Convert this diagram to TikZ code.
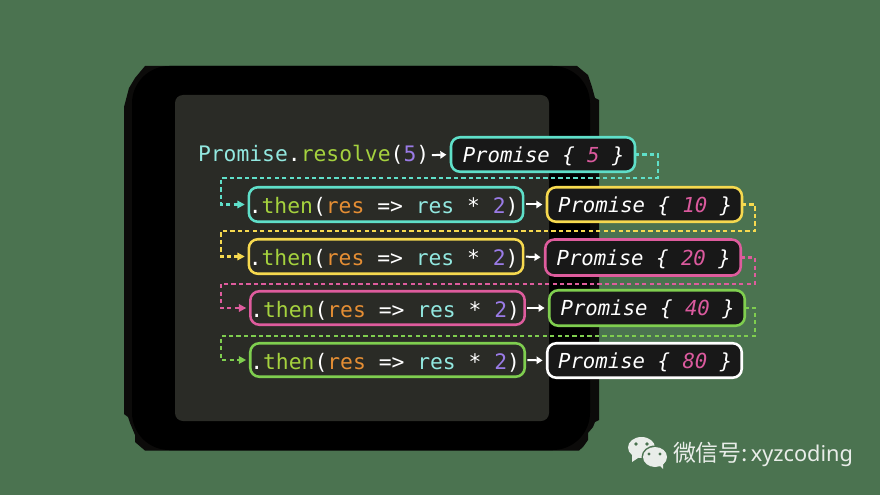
\documentclass[tikz,border=0pt]{standalone}
\usepackage{fontspec}
\setmonofont{DejaVu Sans Mono}
\newfontfamily\cjkfont{Noto Sans CJK SC}
\newfontfamily\latinfont{Noto Sans}
\usetikzlibrary{arrows.meta}
\definecolor{bgc}{HTML}{4B7350}
\definecolor{panelc}{HTML}{2A2B26}
\definecolor{innerc}{HTML}{181818}
\definecolor{shadowc}{HTML}{0C0B0A}
\definecolor{tealc}{HTML}{5FDFC9}
\definecolor{yelc}{HTML}{F6D94F}
\definecolor{pinkc}{HTML}{DE5C9D}
\definecolor{grnc}{HTML}{7FCE4F}
\definecolor{cyant}{HTML}{92E8E0}
\definecolor{lime}{HTML}{A5D23E}
\definecolor{orng}{HTML}{E58E34}
\definecolor{purp}{HTML}{9A7BE6}
\definecolor{pinkt}{HTML}{DB5A9E}
\definecolor{wech}{HTML}{E9EDE9}
\def\ux{0.75pt}
\newcommand{\thencode}{\textcolor{white}{.}\textcolor{lime}{then}\textcolor{white}{(}\textcolor{orng}{res}\textcolor{white}{\ =>\ }\textcolor{cyant}{res}\textcolor{white}{\ *\ }\textcolor{purp}{2}\textcolor{white}{)}\kern 3.5pt}
\newcommand{\pcode}[1]{\textcolor{white}{Promise\ \{\ }\textcolor{pinkt}{#1}\textcolor{white}{\ \}}\kern -1pt}
\tikzset{
  box/.style={draw=#1,line width=1.9pt,rounded corners=6.8pt,inner sep=0pt,outer sep=0pt,font=\fontsize{16pt}{18pt}\ttfamily,text=white},
  thenbox/.style={box=#1,text height=13.8pt,text depth=0pt},
  probox/.style={box=#1,fill=innerc,text height=11.5pt,text depth=0pt,font=\fontsize{15.5pt}{18pt}\ttfamily\itshape},
  link/.style={draw=#1,line width=1.7pt,dash pattern=on 3.2pt off 2.4pt,-{Triangle[length=5.5pt,width=5.5pt,fill=#1]},shorten >=3pt},
  solidarrow/.style={draw=white,line width=1.5pt,-{Triangle[length=4.5pt,width=5.5pt,fill=white]},shorten <=2pt,shorten >=3.5pt},
}
\begin{document}
\begin{tikzpicture}[x=0.75pt,y=-0.75pt]
\useasboundingbox (0,0) rectangle (880,495);
\fill[bgc] (0,0) rectangle (880,495);
% shadow
\fill[shadowc] (145,66) -- (577,66) -- (588,75) -- (592,87) -- (595,98) -- (599,100) -- (599,420) -- (595,422) -- (593,427) -- (588,433) -- (588,440) -- (583,447) -- (579,450.5) -- (145,450.5) -- (142,448) -- (135,442) -- (135,435) -- (130,423) -- (128,417) -- (124,414) -- (124,107) -- (129,88) -- (135,78) -- cycle;
\fill[black,rounded corners=28pt] (132,66) rectangle (590,450);
\fill[panelc,rounded corners=6pt] (175,95) rectangle (549,421);
% code line
\node[anchor=base west,inner sep=0pt,outer sep=0pt,font=\fontsize{16pt}{18pt}\ttfamily] (res) at (198,162) {\textcolor{cyant}{Promise}\textcolor{white}{.}\textcolor{lime}{resolve}\textcolor{white}{(}\textcolor{purp}{5}\textcolor{white}{)}};
% promise boxes
\node[probox=tealc,minimum width=184*\ux,minimum height=34.5*\ux] (p1) at (543,154.5) {\pcode{5}};
\node[probox=yelc,minimum width=195*\ux,minimum height=34.5*\ux] (p2) at (644.5,204.5) {\pcode{10}};
\node[probox=pinkc,minimum width=195.5*\ux,minimum height=36*\ux] (p3) at (643,257.5) {\pcode{20}};
\node[probox=grnc,minimum width=195.5*\ux,minimum height=35.5*\ux] (p4) at (647,308) {\pcode{40}};
\node[probox=white,minimum width=194.5*\ux,minimum height=34.5*\ux] (p5) at (644.5,360.5) {\pcode{80}};
% then boxes
\node[thenbox=tealc,minimum width=273.5*\ux,minimum height=34.5*\ux] (t1) at (386,204.5) {\thencode};
\node[thenbox=yelc,minimum width=273.5*\ux,minimum height=34.5*\ux] (t2) at (386,256.5) {\thencode};
\node[thenbox=pinkc,minimum width=272.5*\ux,minimum height=33.5*\ux] (t3) at (387.5,308) {\thencode};
\node[thenbox=grnc,minimum width=274.5*\ux,minimum height=33.5*\ux] (t4) at (387.5,360) {\thencode};
% corner points
\coordinate (a1) at (658,178);
\coordinate (b1) at (221,178);
\coordinate (a2) at (755,231);
\coordinate (b2) at (221,231);
\coordinate (a3) at (755,284);
\coordinate (b3) at (221,284);
\coordinate (a4) at (755,336);
\coordinate (b4) at (221,336);
% connectors
\draw[link=tealc] (p1.east) -| (a1) -- (b1) |- (t1.west);
\draw[link=yelc] (p2.east) -| (a2) -- (b2) |- (t2.west);
\draw[link=pinkc] (p3.east) -| (a3) -- (b3) |- (t3.west);
\draw[link=grnc] (p4.east) -| (a4) -- (b4) |- (t4.west);
\draw[solidarrow] (res.east) -- (p1.west);
\draw[solidarrow] (t1.east) -- (p2.west);
\draw[solidarrow] (t2.east) -- (p3.west);
\draw[solidarrow] (t3.east) -- (p4.west);
\draw[solidarrow] (t4.east) -- (p5.west);
% wechat logo
\begin{scope}[wech]
\fill (641.5,447.5) ellipse [x radius=13.5,y radius=10.5];
\fill (632,454) -- (632,462) -- (641,456) -- cycle;
\fill[bgc] (655,457) ellipse [x radius=13.5,y radius=11.5];
\fill (655,457) ellipse [x radius=12,y radius=10];
\fill (658,464) -- (663,469) -- (663,462) -- cycle;
\fill[bgc] (636,444) circle [radius=1.8];
\fill[bgc] (647,444) circle [radius=1.8];
\fill[bgc] (649,454) circle [radius=1.6];
\fill[bgc] (660,454) circle [radius=1.6];
\end{scope}
\node[anchor=base west,inner sep=0pt,outer sep=0pt,text=wech,font=\fontsize{17.2pt}{20pt}\cjkfont] (wm) at (673,461) {微信号:\kern 2pt{\fontsize{16.3pt}{20pt}\latinfont xyzcoding}};
\end{tikzpicture}
\end{document}
